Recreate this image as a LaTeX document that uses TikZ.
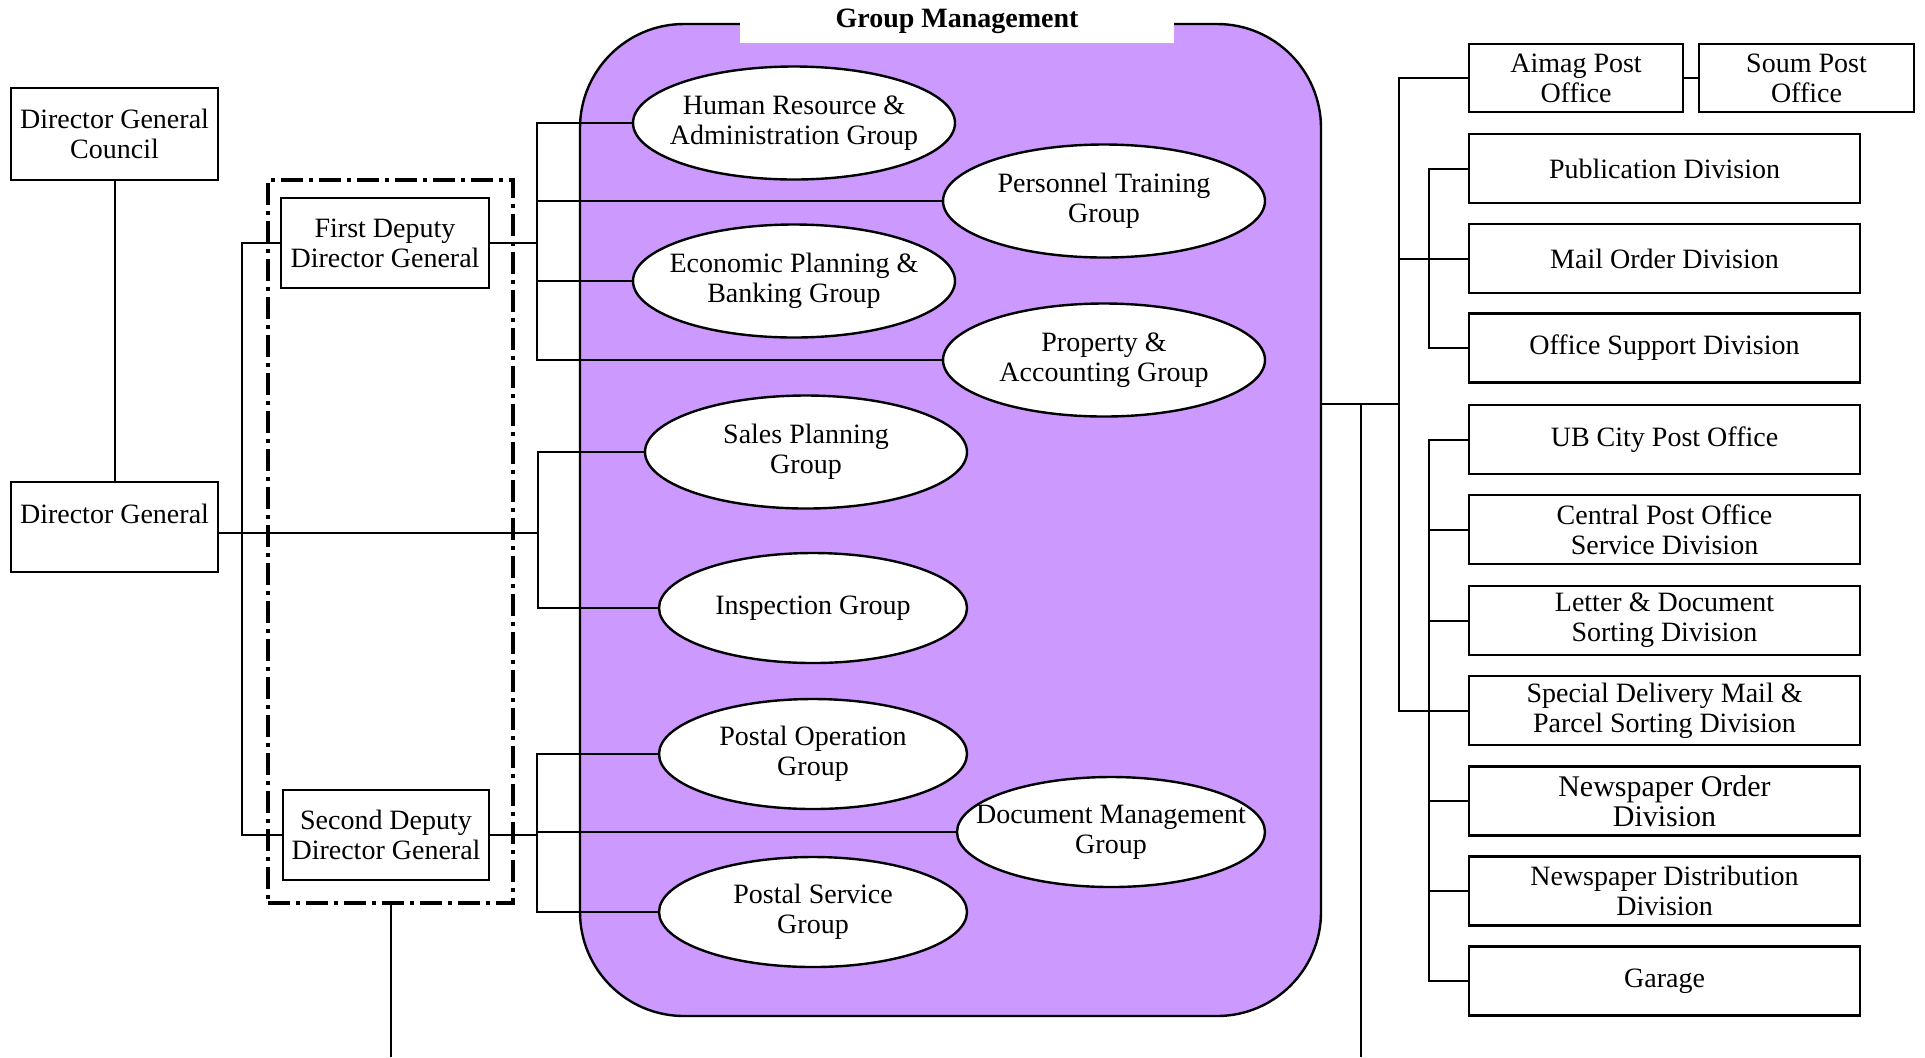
\documentclass[tikz,border=0pt]{standalone}
\usepackage{fontspec}
\setmainfont{Liberation Serif}
\usetikzlibrary{shapes.geometric}
\definecolor{gmfill}{RGB}{204,153,255}
% zero-width centred stack, so the ellipse size comes from its minimum width/height
\newcommand\ctr[1]{\makebox[0pt]{\begin{tabular}{@{}c@{}}#1\end{tabular}}}

\begin{document}
\begin{tikzpicture}[x=0.5pt,y=-0.5pt,
  every node/.style={font=\fontsize{14}{15}\selectfont},
  box/.style={draw,line width=1.2pt,rectangle,inner sep=0pt,align=center},
  unit/.style={box,minimum width=195.5pt,minimum height=34.5pt},
  grp/.style={draw,line width=1.2pt,ellipse,fill=white,inner sep=0pt},
  grpwide/.style={grp,minimum width=161pt,minimum height=56.5pt},
  grpnarrow/.style={grp,minimum width=154pt,minimum height=55pt},
  conn/.style={line width=1pt},
]
\useasboundingbox (0,0) rectangle (1925,1057);

% group management area
\node[draw,line width=1.2pt,fill=gmfill,rounded corners=52pt,
      minimum width=370.5pt,minimum height=496pt,inner sep=0pt] (gm) at (950.5,520) {};
\node[fill=white,minimum width=217pt,minimum height=22pt,inner sep=0pt,
      font=\fontsize{14}{15}\selectfont\bfseries] (gmt) at (957,21) {Group Management};

% directors
\node[box,minimum width=103.5pt,minimum height=46pt] (dgc) at (114.5,134) {Director General\\Council};
\node[box,minimum width=103.5pt,minimum height=45pt,text height=10pt,text depth=14pt] (dg) at (114.5,527) {Director General};
\node[draw,line width=1.7pt,dash pattern=on 11pt off 3pt on 2pt off 3pt,
      minimum width=122.5pt,minimum height=361.5pt,inner sep=0pt] (frame) at (390.5,541.5) {};
\node[box,minimum width=104pt,minimum height=45pt] (fd) at (385,243) {First Deputy\\Director General};
\node[box,minimum width=103pt,minimum height=45pt] (sd) at (386,835) {Second Deputy\\Director General};

% groups
\node[grpwide] (hr) at (794,123) {\ctr{Human Resource \&\\Administration Group}};
\node[grpwide] (pt) at (1104,201) {\ctr{Personnel Training\\Group}};
\node[grpwide] (ep) at (794,281) {\ctr{Economic Planning \&\\Banking Group}};
\node[grpwide] (pa) at (1104,360) {\ctr{Property \&\\Accounting Group}};
\node[grpwide] (sp) at (806,452) {\ctr{Sales Planning\\Group}};
\node[grpnarrow] (ig) at (813,608) {\ctr{Inspection Group}};
\node[grpnarrow] (po) at (813,754) {\ctr{Postal Operation\\Group}};
\node[grpnarrow] (dm) at (1111,832) {\ctr{Document Management\\Group}};
\node[grpnarrow] (ps) at (813,912) {\ctr{Postal Service\\Group}};

% units
\node[box,minimum width=107pt,minimum height=34pt] (aimag) at (1576,78) {Aimag Post\\Office};
\node[box,minimum width=107.5pt,minimum height=34pt] (soum) at (1806.5,78) {Soum Post\\Office};
\node[unit] (pub) at (1664.5,168.5) {Publication Division};
\node[unit] (mail) at (1664.5,258.5) {Mail Order Division};
\node[unit] (office) at (1664.5,348) {Office Support Division};
\node[unit] (ub) at (1664.5,439.5) {UB City Post Office};
\node[unit] (central) at (1664.5,529.5) {Central Post Office\\Service Division};
\node[unit] (letter) at (1664.5,620.5) {Letter \& Document\\Sorting Division};
\node[unit] (special) at (1664.5,710.5) {Special Delivery Mail \&\\Parcel Sorting Division};
\node[unit,font=\fontsize{15}{15}\selectfont] (newsorder) at (1664.5,801) {Newspaper Order\\Division};
\node[unit] (newsdist) at (1664.5,891) {Newspaper Distribution\\Division};
\node[unit] (garage) at (1664.5,981) {Garage};

% left connectors
\draw[conn] (dgc.south) -- (dg.north);
\coordinate (lv) at (242,0);
\draw[conn] (fd.west) -- (fd.west -| lv) -- (sd.west -| lv) -- (sd.west);
\coordinate (frameEnd) at (390.5,1057);
\draw[conn] (frame.south) -- (frameEnd);

\coordinate (lbA) at (537,123);
\coordinate (lbB) at (537,360);
\draw[conn] (hr.west) -- (lbA) -- (lbB) -- (pa.west);
\draw[conn] (pt.west) -- (pt.west -| lbA);
\draw[conn] (ep.west) -- (ep.west -| lbA);
\draw[conn] (fd.east) -- (fd.east -| lbA);

\coordinate (lbC) at (538,452);
\coordinate (lbD) at (538,608);
\coordinate (dgj) at (538,533);
\draw[conn] (sp.west) -- (lbC) -- (lbD) -- (ig.west);
\draw[conn] ([yshift=-3pt]dg.east) -- (dgj);

\coordinate (lbE) at (537,754);
\coordinate (lbF) at (537,912);
\draw[conn] (po.west) -- (lbE) -- (lbF) -- (ps.west);
\draw[conn] (dm.west) -- (dm.west -| lbE);
\draw[conn] (sd.east) -- (sd.east -| lbE);

% right connectors
\coordinate (rb) at (1399,0);
\coordinate (sb) at (1429,0);
\coordinate (gmR) at (gm.east |- 0,404);
\coordinate (vdown) at (1361,1057);
\draw[conn] (gmR) -- (gmR -| rb);
\draw[conn] (gmR -| vdown) -- (vdown);
\draw[conn] (aimag.west) -- (aimag.west -| rb) -- (special.west -| rb) -- (special.west);
\draw[conn] (mail.west) -- (mail.west -| rb);
\draw[conn] (aimag.east) -- (soum.west);
\draw[conn] (pub.west) -- (pub.west -| sb) -- (office.west -| sb) -- (office.west);
\draw[conn] (ub.west) -- (ub.west -| sb) -- (garage.west -| sb) -- (garage.west);
\foreach \n in {central,letter,newsorder,newsdist}
  \draw[conn] (\n.west) -- (\n.west -| sb);
\end{tikzpicture}
\end{document}
